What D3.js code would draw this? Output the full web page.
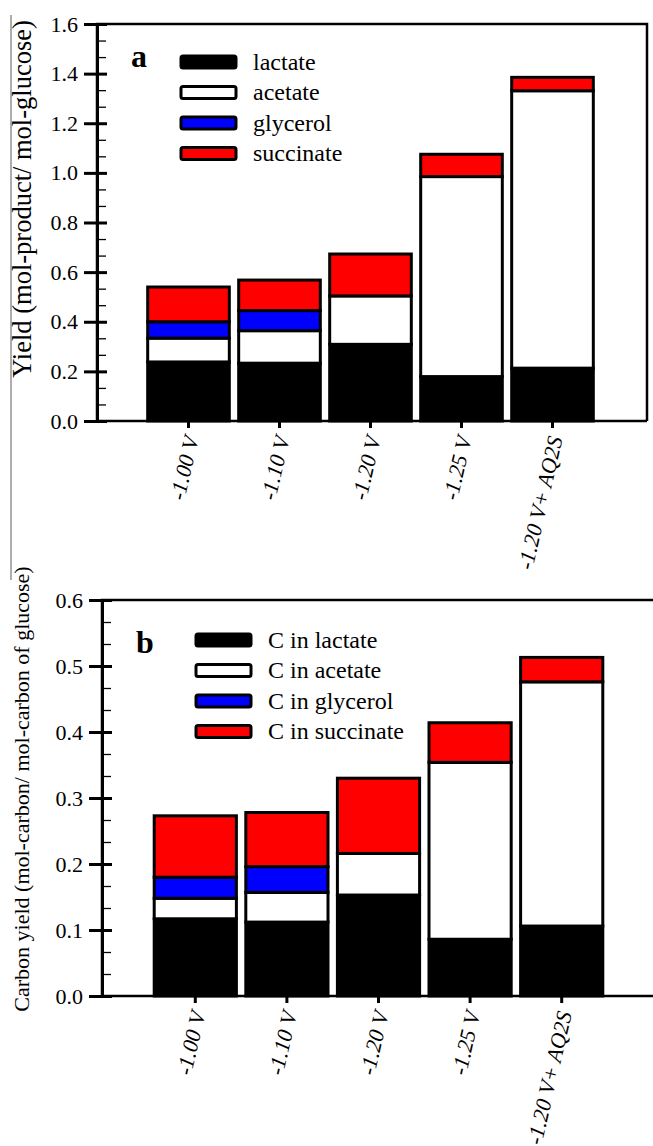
<!DOCTYPE html>
<html>
<head>
<meta charset="utf-8">
<script src="https://cdn.jsdelivr.net/npm/d3@7/dist/d3.min.js"></script>
<style>
  body { margin: 0; background: #fff; }
  svg text { font-family: "Liberation Serif", "Times New Roman", serif !important; }
</style>
</head>
<body>
<svg id="chart" width="653" height="1146"></svg>
<script>
// categories (x axis)
var categories = ['-1.00 V', '-1.10 V', '-1.20 V', '-1.25 V', '-1.20 V+ AQ2S'];
var keys = ['lactate', 'acetate', 'glycerol', 'succinate'];
var colors = ['#000000', '#ffffff', '#0000ff', '#ff0000'];

// panel a: yield (mol-product / mol-glucose), segment heights
var lactateA   = [0.238, 0.233, 0.309, 0.179, 0.213];
var acetateA   = [0.096, 0.131, 0.195, 0.806, 1.118];
var glycerolA  = [0.066, 0.081, 0, 0, 0];
var succinateA = [0.140, 0.123, 0.169, 0.090, 0.054];
var ticksA = [0, 0.2, 0.4, 0.6, 0.8, 1.0, 1.2, 1.4, 1.6];

// panel b: carbon yield (mol-carbon / mol-carbon of glucose)
var lactateB   = [0.117, 0.112, 0.153, 0.086, 0.106];
var acetateB   = [0.031, 0.045, 0.063, 0.268, 0.370];
var glycerolB  = [0.032, 0.039, 0, 0, 0];
var succinateB = [0.093, 0.082, 0.114, 0.060, 0.037];
var ticksB = [0, 0.1, 0.2, 0.3, 0.4, 0.5, 0.6];

var legendA = ['lactate', 'acetate', 'glycerol', 'succinate'];
var legendB = ['C in lactate', 'C in acetate', 'C in glycerol', 'C in succinate'];

var svg = d3.select('#chart');

// thin scan border line on the left
svg.append('line')
    .attr('x1', 11).attr('x2', 11).attr('y1', 15).attr('y2', 580)
    .attr('stroke', '#777').attr('stroke-width', 1.2);

var buildRows = function(l, a, g, s){
    return categories.map(function(c, i){
        return {cat: c, lactate: l[i], acetate: a[i], glycerol: g[i], succinate: s[i]};
    });
};

var drawPanel = function(p){
    var g = svg.append('g');
    var y = d3.scaleLinear().domain([0, p.yMax]).range([p.bottom, p.top]);
    var x = d3.scaleBand().domain(categories)
        .range([p.bandStart, p.bandEnd]).paddingInner(0.07).paddingOuter(0.035);

    // bars
    var stack = d3.stack().keys(keys)(p.rows);
    stack.forEach(function(layer, k){
        g.append('g').selectAll('rect')
            .data(layer.filter(function(d){ return d[1] - d[0] > 0; }))
            .enter().append('rect')
            .attr('x', function(d){ return x(d.data.cat) + 1.5; })
            .attr('width', x.bandwidth() - 3)
            .attr('y', function(d){ return y(d[1]); })
            .attr('height', function(d){ return y(d[0]) - y(d[1]); })
            .attr('fill', colors[k])
            .attr('stroke', '#000')
            .attr('stroke-width', 3);
    });

    // frame
    g.append('path')
        .attr('d', 'M' + p.left + ',' + p.bottom + 'V' + p.top + 'H' + p.right + 'V' + p.bottom)
        .attr('fill', 'none').attr('stroke', '#000').attr('stroke-width', 2.5);

    // y axis: major ticks outside + inside, minor ticks inside
    var yAxis = d3.axisLeft(y).tickValues(p.ticks).tickSize(13).tickSizeOuter(0)
        .tickPadding(6).tickFormat(d3.format(p.fmt));
    var ya = g.append('g').attr('transform', 'translate(' + p.left + ',0)').call(yAxis);
    ya.select('.domain').attr('stroke-width', 3);
    ya.selectAll('.tick line').attr('stroke-width', 3);
    ya.selectAll('.tick text').attr('font-size', p.tickFont).attr('fill', '#000');

    var yIn = d3.axisRight(y).tickValues(p.ticks).tickSize(10).tickSizeOuter(0).tickFormat('');
    var yi = g.append('g').attr('transform', 'translate(' + p.left + ',0)').call(yIn);
    yi.select('.domain').remove();
    yi.selectAll('.tick line').attr('stroke-width', 3);

    var minors = [];
    for (var i = 0; i < p.ticks.length - 1; i++){
        var step = (p.ticks[i + 1] - p.ticks[i]) / 3;
        minors.push(p.ticks[i] + step, p.ticks[i] + 2 * step);
    }
    var yMinor = d3.axisRight(y).tickValues(minors).tickSize(9).tickSizeOuter(0).tickFormat('');
    var ym = g.append('g').attr('transform', 'translate(' + p.left + ',0)').call(yMinor);
    ym.select('.domain').remove();
    ym.selectAll('.tick line').attr('stroke-width', 1.3);

    // x axis
    var xAxis = d3.axisBottom(x).tickSize(7).tickSizeOuter(0).tickPadding(4);
    var xa = g.append('g').attr('transform', 'translate(0,' + p.bottom + ')').call(xAxis);
    xa.select('.domain').attr('stroke-width', 2.5)
        .attr('d', 'M' + p.left + ',0H' + p.right);
    xa.selectAll('.tick line').attr('stroke-width', 3);
    xa.selectAll('.tick text')
        .attr('font-size', p.tickFont).attr('font-style', 'italic').attr('fill', '#000')
        .attr('text-anchor', 'end')
        .attr('dy', '0.35em')
        .attr('transform', 'translate(-8,13) rotate(-77)');

    // y title
    g.append('text')
        .attr('transform', 'translate(' + p.titleX + ',' + p.titleY + ') rotate(-90)')
        .attr('text-anchor', 'middle')
        .attr('font-size', p.titleFont)
        .text(p.title);

    // panel letter
    g.append('text')
        .attr('x', p.left + 34).attr('y', p.top + p.letterDy)
        .attr('font-size', 32).attr('font-weight', 'bold')
        .text(p.letter);

    // legend
    var lg = g.append('g').selectAll('g').data(p.legend).enter().append('g')
        .attr('transform', function(d, i){ return 'translate(' + p.legX + ',' + (p.legY + i * p.legStep) + ')'; });
    lg.append('rect')
        .attr('x', 0).attr('y', -6).attr('width', 55).attr('height', 12).attr('rx', 2)
        .attr('fill', function(d, i){ return colors[i]; })
        .attr('stroke', '#000').attr('stroke-width', 3);
    lg.append('text')
        .attr('x', 72).attr('dy', '0.33em')
        .attr('font-size', p.legFont)
        .text(function(d){ return d; });
};

drawPanel({
    rows: buildRows(lactateA, acetateA, glycerolA, succinateA),
    yMax: 1.6, ticks: ticksA, fmt: '.1f',
    left: 97, right: 647, top: 24, bottom: 421,
    bandStart: 143, bandEnd: 598,
    tickFont: 22, title: 'Yield (mol-product/ mol-glucose)', titleFont: 26.5,
    titleX: 31, titleY: 199,
    letter: 'a', letterDy: 43,
    legend: legendA, legX: 181, legY: 62, legStep: 30.5, legFont: 24
});

drawPanel({
    rows: buildRows(lactateB, acetateB, glycerolB, succinateB),
    yMax: 0.6, ticks: ticksB, fmt: '.1f',
    left: 102, right: 670, top: 600, bottom: 996,
    bandStart: 149.5, bandEnd: 607.5,
    tickFont: 22, title: 'Carbon yield (mol-carbon/ mol-carbon of glucose)', titleFont: 22,
    titleX: 29, titleY: 789,
    letter: 'b', letterDy: 53,
    legend: legendB, legX: 196, legY: 640, legStep: 30.5, legFont: 24
});
</script>
</body>
</html>
